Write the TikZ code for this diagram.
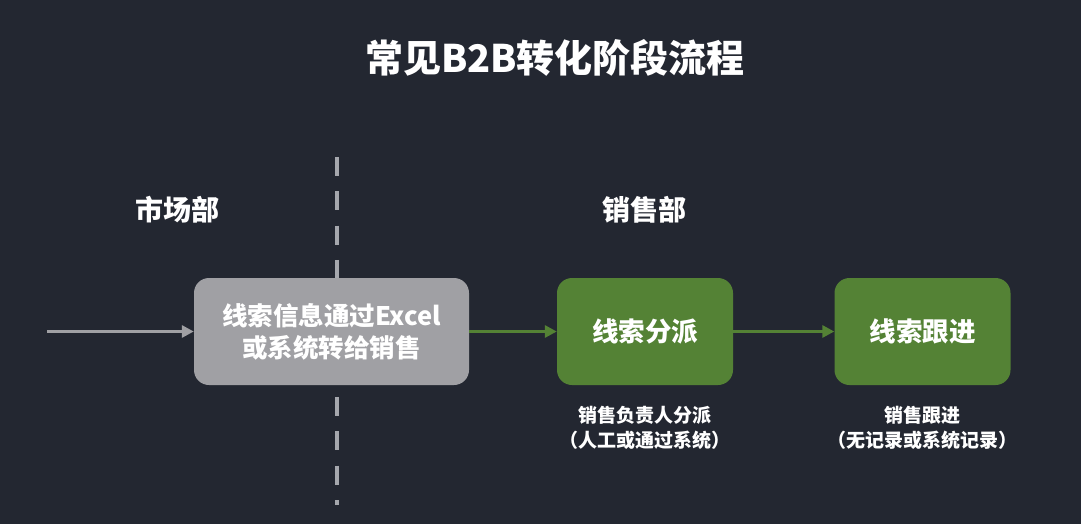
\documentclass[tikz,border=0pt]{standalone}
\usepackage{fontspec}
\newfontfamily\cjk{Noto Sans CJK SC}
\usetikzlibrary{arrows.meta,positioning}

\definecolor{bgcol}{RGB}{35,39,49}
\definecolor{boxgray}{RGB}{160,160,164}
\definecolor{linegray}{RGB}{165,167,173}
\definecolor{leadgreen}{RGB}{84,130,53}

\tikzset{
  stagebox/.style={rounded corners=15pt, inner sep=0pt, minimum height=107pt,
    text=white, align=center, font=\cjk\bfseries\fontsize{25.5}{32}\selectfont},
  dept/.style={text=white, font=\cjk\bfseries\fontsize{28}{34}\selectfont},
  note/.style={text=white, align=center, font=\cjk\bfseries\fontsize{19}{25}\selectfont},
  flow/.style={line width=3.5pt, -{Triangle[length=12pt,width=12pt]}}
}

\begin{document}
\begin{tikzpicture}[x=1pt,y=-1pt]
\fill[bgcol] (0,0) rectangle (1081,524);
\useasboundingbox (0,0) rectangle (1081,524);

% title
\node[text=white, font=\cjk\bfseries\fontsize{38}{44}\selectfont] (title) at (555,58) {常见B2B转化阶段流程};

% departments
\node[dept] (market) at (177,210) {市场部};
\node[dept] (sales) at (644,210) {销售部};

% divider
\draw[linegray, line width=4pt, dash pattern=on 19pt off 15.3pt] (337,157) -- (337,505);

% stages
\node[stagebox, fill=boxgray, minimum width=275pt] (excel) at (331.5,331.5) {线索信息通过Excel\\或系统转给销售};
\node[stagebox, fill=leadgreen, minimum width=176pt, font=\cjk\bfseries\fontsize{26.5}{32}\selectfont] (assign) at (645,331.5) {线索分派};
\node[stagebox, fill=leadgreen, minimum width=176pt, font=\cjk\bfseries\fontsize{26.5}{32}\selectfont] (follow) at (922.5,331.5) {线索跟进};

\node[note] (assignnote) at (645,427.5) {销售负责人分派\\（人工或通过系统）};
\node[note] (follownote) at (922.5,427.5) {销售跟进\\（无记录或系统记录）};

% arrows
\coordinate (start) at (47,331.5);
\draw[flow, boxgray] (start) -- (excel);
\draw[flow, leadgreen] (excel) -- (assign);
\draw[flow, leadgreen] (assign) -- (follow);
\end{tikzpicture}
\end{document}
